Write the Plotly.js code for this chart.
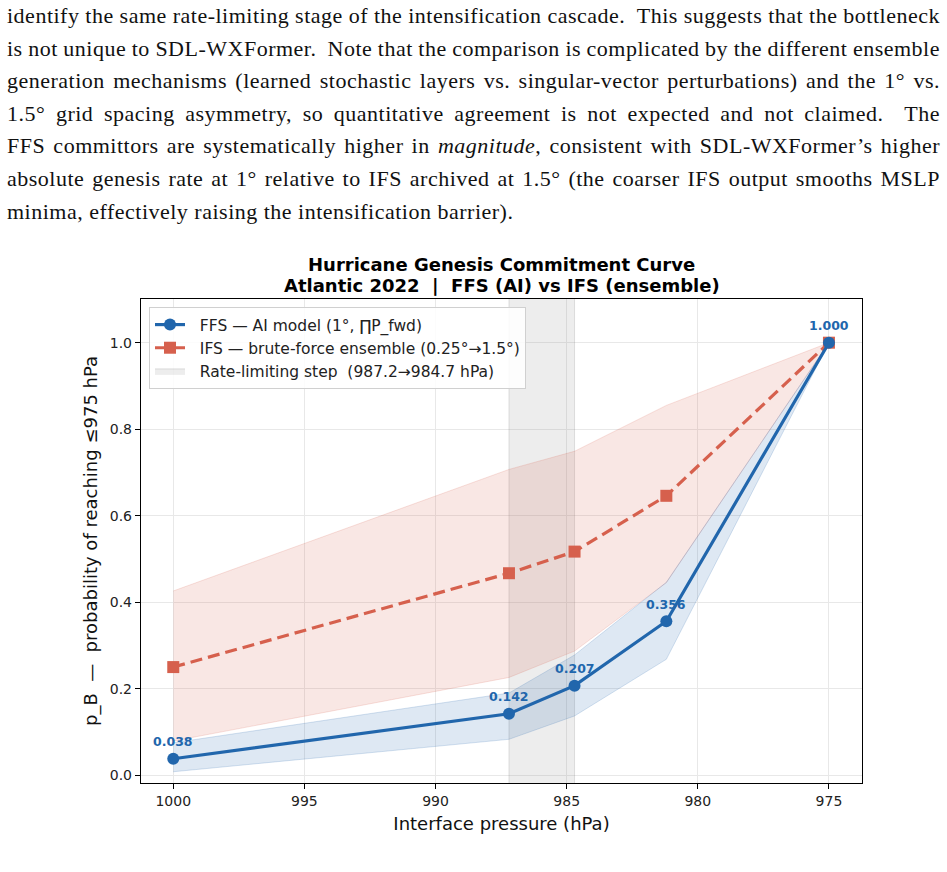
<!DOCTYPE html>
<html>
<head>
<meta charset="utf-8">
<script src="https://cdn.plot.ly/plotly-3.0.1.min.js"></script>
<style>
  html, body { margin: 0; padding: 0; background: #fff; }
  #page { position: relative; width: 947px; height: 872px; overflow: hidden; }
  #para {
    position: absolute; left: 7px; top: 0px; width: 933px;
    font-family: "Liberation Serif", "DejaVu Serif", serif;
    font-size: 22px; letter-spacing: 0.5px; line-height: 32.6px; color: #111;
  }
  #para .ln { white-space: nowrap; }
  #chart { position: absolute; left: 0; top: 0; width: 947px; height: 872px; }
</style>
</head>
<body>
<div id="page">
  <div id="chart"></div>
  <div id="para">
    <div class="ln"><span>identify the same rate-limiting stage of the intensification cascade.&nbsp; This suggests that the bottleneck</span></div>
    <div class="ln"><span>is not unique to SDL-WXFormer.&nbsp; Note that the comparison is complicated by the different ensemble</span></div>
    <div class="ln"><span>generation mechanisms (learned stochastic layers vs. singular-vector perturbations) and the 1° vs.</span></div>
    <div class="ln"><span>1.5° grid spacing asymmetry, so quantitative agreement is not expected and not claimed.&nbsp; The</span></div>
    <div class="ln"><span>FFS committors are systematically higher in <i>magnitude</i>, consistent with SDL-WXFormer’s higher</span></div>
    <div class="ln"><span>absolute genesis rate at 1° relative to IFS archived at 1.5° (the coarser IFS output smooths MSLP</span></div>
    <div class="ln last"><span>minima, effectively raising the intensification barrier).</span></div>
  </div>
</div>
<script>
// Justify each full line of the paragraph to the column width
(function () {
  const colWidth = 933;
  document.querySelectorAll('#para .ln:not(.last) > span').forEach(sp => {
    const gaps = (sp.textContent.match(/[ \u00a0]/g) || []).length;
    const w = sp.getBoundingClientRect().width;
    if (gaps > 0) sp.style.wordSpacing = ((colWidth - w) / gaps) + 'px';
  });
})();

// Interface pressures (hPa) of the intensification cascade
const pressure = [1000, 987.2, 984.7, 981.2, 975];

// FFS (AI model) committor and its uncertainty band
const ffsPB    = [0.038, 0.142, 0.207, 0.356, 1.000];
const ffsLower = [0.008, 0.083, 0.137, 0.268, 1.000];
const ffsUpper = [0.075, 0.190, 0.278, 0.446, 1.000];

// IFS brute-force ensemble committor and its band
const ifsPB    = [0.250, 0.467, 0.517, 0.646, 1.000];
const ifsLower = [0.079, 0.226, 0.287, 0.445, 1.000];
const ifsUpper = [0.426, 0.707, 0.749, 0.855, 1.000];

// Rate-limiting step between two interfaces
const rateStep = [987.2, 984.7];

const xTicks = [1000, 995, 990, 985, 980, 975];
const yTicks = [0.0, 0.2, 0.4, 0.6, 0.8, 1.0];

const titleLines = ['Hurricane Genesis Commitment Curve',
                    'Atlantic 2022\u00a0\u00a0|\u00a0\u00a0FFS (AI) vs IFS (ensemble)'];

const BLUE = '#2166ac';
const RED = '#d6604d';
const FONT = '"DejaVu Sans", Verdana, sans-serif';
const PAD = '\u00a0\u00a0';  // gap between legend swatch and label

const traces = [
  // shaded rate-limiting interval (also its legend swatch)
  {
    x: [rateStep[0], rateStep[1], rateStep[1], rateStep[0], rateStep[0]],
    y: [-1, -1, 2, 2, -1],
    mode: 'lines', fill: 'toself',
    fillcolor: 'rgba(128,128,128,0.14)',
    line: {color: 'rgba(128,128,128,0.22)', width: 1},
    name: PAD + 'Rate-limiting step\u00a0\u00a0(' + rateStep[0].toFixed(1) + '→' + rateStep[1].toFixed(1) + ' hPa)',
    hoverinfo: 'skip', legendrank: 3
  },
  // IFS band
  {x: pressure, y: ifsLower, mode: 'lines', line: {color: 'rgba(214,96,77,0.18)', width: 1},
   showlegend: false, hoverinfo: 'skip'},
  {x: pressure, y: ifsUpper, mode: 'lines', fill: 'tonexty', fillcolor: 'rgba(214,96,77,0.15)',
   line: {color: 'rgba(214,96,77,0.18)', width: 1}, showlegend: false, hoverinfo: 'skip'},
  // FFS band
  {x: pressure, y: ffsLower, mode: 'lines', line: {color: 'rgba(33,102,172,0.18)', width: 1},
   showlegend: false, hoverinfo: 'skip'},
  {x: pressure, y: ffsUpper, mode: 'lines', fill: 'tonexty', fillcolor: 'rgba(33,102,172,0.15)',
   line: {color: 'rgba(33,102,172,0.18)', width: 1}, showlegend: false, hoverinfo: 'skip'},
  // IFS curve
  {x: pressure, y: ifsPB, mode: 'lines+markers',
   line: {color: RED, width: 3.2, dash: '12px,6px'},
   marker: {symbol: 'square', size: 12, color: RED},
   name: PAD + 'IFS — brute-force ensemble (0.25°→1.5°)', legendrank: 2},
  // FFS curve
  {x: pressure, y: ffsPB, mode: 'lines+markers',
   line: {color: BLUE, width: 3.2},
   marker: {symbol: 'circle', size: 12, color: BLUE},
   name: PAD + 'FFS — AI model (1°, ∏P_fwd)', legendrank: 1}
];

const annotations = pressure.map((p, i) => ({
  x: p, y: ffsPB[i], xref: 'x', yref: 'y',
  text: '<b>' + ffsPB[i].toFixed(3) + '</b>',
  showarrow: false, yshift: 17,
  font: {family: FONT, size: 12.5, color: BLUE}
}));

// two-line bold title above the axes
const W = 947, H = 872;
const M = {l: 141, r: 85, t: 299, b: 89};
const plotH = H - M.t - M.b;
[265, 285.7].forEach((yPix, k) => {
  annotations.push({
    x: 0.5, xref: 'paper', y: (H - M.b - yPix) / plotH, yref: 'paper',
    xanchor: 'center', yanchor: 'middle', showarrow: false,
    text: '<b>' + titleLines[k] + '</b>',
    font: {family: FONT, size: 18, color: '#000'}
  });
});

const layout = {
  width: W, height: H,
  margin: {l: M.l, r: M.r, t: M.t, b: M.b, pad: 0},
  paper_bgcolor: 'rgba(0,0,0,0)', plot_bgcolor: '#fff',
  font: {family: FONT, color: '#222'},
  xaxis: {
    range: [1001.23, 973.74], tickvals: xTicks, ticktext: xTicks.map(String),
    ticks: 'outside', ticklen: 5, tickwidth: 1, tickcolor: '#000',
    tickfont: {family: FONT, size: 14, color: '#222'},
    showgrid: true, gridcolor: '#e8e8e8', gridwidth: 1, zeroline: false,
    showline: true, mirror: true, linecolor: '#000', linewidth: 1.2,
    title: {text: 'Interface pressure (hPa)', font: {family: FONT, size: 18, color: '#111'}, standoff: 9},
    automargin: false
  },
  yaxis: {
    range: [-0.018, 1.101], tickvals: yTicks, ticktext: yTicks.map(v => v.toFixed(1)),
    ticks: 'outside', ticklen: 5, tickwidth: 1, tickcolor: '#000',
    tickfont: {family: FONT, size: 14, color: '#222'},
    showgrid: true, gridcolor: '#e8e8e8', gridwidth: 1, zeroline: false,
    showline: true, mirror: true, linecolor: '#000', linewidth: 1.2,
    title: {text: 'p_B\u00a0\u00a0—\u00a0\u00a0probability of reaching ≤975 hPa', font: {family: FONT, size: 18, color: '#111'}, standoff: 7},
    automargin: false
  },
  legend: {
    x: 8 / 721, y: 1 - 8 / plotH, xanchor: 'left', yanchor: 'top',
    bgcolor: 'rgba(255,255,255,0.85)', bordercolor: '#d0d0d0', borderwidth: 1,
    font: {family: FONT, size: 15.5, color: '#222'},
    traceorder: 'normal', itemwidth: 30, tracegroupgap: 0
  },
  annotations: annotations,
  showlegend: true
};

Plotly.newPlot('chart', traces, layout, {displayModeBar: false, staticPlot: true});
</script>
</body>
</html>
